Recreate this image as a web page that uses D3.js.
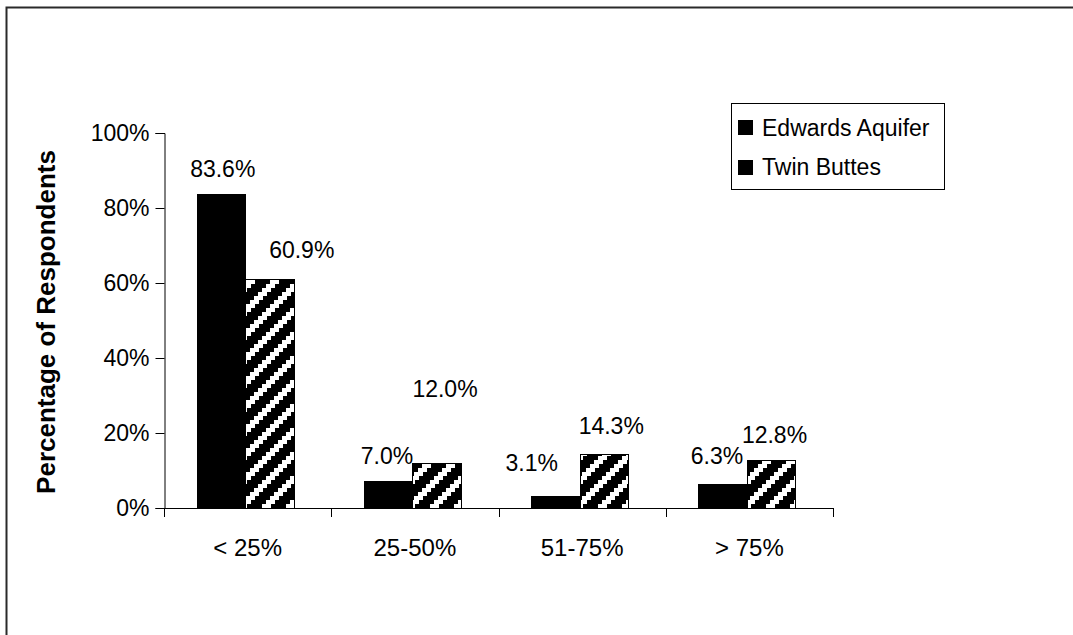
<!DOCTYPE html>
<html>
<head>
<meta charset="utf-8">
<script src="https://cdn.jsdelivr.net/npm/d3@7/dist/d3.min.js"></script>
<style>
  html, body { margin: 0; padding: 0; background: #fff; }
  svg { display: block; font-family: Arial, "Liberation Sans", sans-serif; }
</style>
</head>
<body>
<svg id="chart" width="1073" height="635"></svg>
<script>
// Share of respondents by percentage band, two survey regions
const categories = ["< 25%", "25-50%", "51-75%", "> 75%"];
const seriesNames = ["Edwards Aquifer", "Twin Buttes"];
const edwardsValues = [83.6, 7.0, 3.1, 6.3];
const twinButtesValues = [60.9, 12.0, 14.3, 12.8];
const yTicks = [0, 20, 40, 60, 80, 100];

// Label nudges (px) relative to each bar's centre / top
const labelDx = [[1.5, 32], [-1.5, 8], [-24, 7], [-6, 3]];
const labelDy = [[-18, -22], [-18, -66], [-25, -20], [-20, -17.5]];

(function draw() {
  const svg = d3.select("#chart");
  const font = 23;

  // outer frame
  svg.append("rect")
    .attr("x", 6.5).attr("y", 7.5)
    .attr("width", 1100).attr("height", 700)
    .attr("fill", "none").attr("stroke", "#2a2a2a").attr("stroke-width", 2);

  // stepped diagonal stripe fill for the second series
  const defs = svg.append("defs");
  const tile = 24, step = 4, band = 9;
  const pat = defs.append("pattern")
    .attr("id", "upDiag")
    .attr("patternUnits", "userSpaceOnUse")
    .attr("x", 2).attr("y", 4)
    .attr("width", tile).attr("height", tile);
  pat.append("rect").attr("width", tile).attr("height", tile).attr("fill", "#000");
  d3.range(tile / step).forEach(j => {
    const start = ((16 - step * j) % tile + tile) % tile;
    [start, start - tile].forEach(sx => {
      pat.append("rect")
        .attr("x", sx).attr("y", j * step)
        .attr("width", band).attr("height", step)
        .attr("fill", "#fff")
        .attr("shape-rendering", "crispEdges");
    });
  });

  const pLeft = 164, pRight = 833, pTop = 133, pBottom = 508;

  const x0 = d3.scaleBand().domain(categories).range([pLeft, pRight]).padding(0);
  const x1 = d3.scaleBand().domain(seriesNames).range([33, 130]).padding(0);
  const y = d3.scaleLinear().domain([0, 100]).range([pBottom, pTop]);

  // y axis
  const yAxis = d3.axisLeft(y).tickValues(yTicks).tickSize(9).tickPadding(6)
    .tickFormat(d => d + "%");
  const gy = svg.append("g").attr("transform", `translate(${pLeft + 0.5},0)`).call(yAxis);
  gy.select(".domain").attr("stroke", "#000");
  gy.selectAll(".tick line").attr("stroke", "#000");
  gy.selectAll(".tick text").attr("font-size", font).attr("fill", "#000")
    .attr("font-family", "Arial, 'Liberation Sans', sans-serif");

  // bars and value labels
  const series = [edwardsValues, twinButtesValues];
  const fills = ["#000", "url(#upDiag)"];
  categories.forEach((c, i) => {
    series.forEach((vals, s) => {
      const bx = x0(c) + x1(seriesNames[s]);
      svg.append("rect")
        .attr("x", bx).attr("y", y(vals[i]))
        .attr("width", x1.bandwidth()).attr("height", y(0) - y(vals[i]))
        .attr("fill", fills[s])
        .attr("stroke", "#000").attr("stroke-width", 1)
        .attr("shape-rendering", "crispEdges");
      svg.append("text")
        .attr("x", bx + x1.bandwidth() / 2 + labelDx[i][s])
        .attr("y", y(vals[i]) + labelDy[i][s])
        .attr("text-anchor", "middle")
        .attr("font-size", font)
        .text(vals[i].toFixed(1) + "%");
    });
  });

  // x axis
  svg.append("line")
    .attr("x1", pLeft).attr("x2", pRight)
    .attr("y1", pBottom + 0.5).attr("y2", pBottom + 0.5)
    .attr("stroke", "#000");
  const boundaries = categories.map(c => x0(c)).concat([pRight]);
  svg.selectAll(".xtick").data(boundaries).enter().append("line")
    .attr("x1", d => Math.round(d) + 0.5).attr("x2", d => Math.round(d) + 0.5)
    .attr("y1", pBottom).attr("y2", pBottom + 9)
    .attr("stroke", "#000");
  svg.selectAll(".xlab").data(categories).enter().append("text")
    .attr("x", d => x0(d) + x0.bandwidth() / 2)
    .attr("y", pBottom + 48)
    .attr("text-anchor", "middle")
    .attr("font-size", 24)
    .text(d => d);

  // y axis title
  svg.append("text")
    .attr("transform", "translate(55,322) rotate(-90)")
    .attr("text-anchor", "middle")
    .attr("font-size", 26)
    .attr("font-weight", "bold")
    .text("Percentage of Respondents");

  // legend
  const lg = svg.append("g");
  lg.append("rect")
    .attr("x", 731.5).attr("y", 103.5).attr("width", 213).attr("height", 86)
    .attr("fill", "#fff").attr("stroke", "#000");
  seriesNames.forEach((n, k) => {
    lg.append("rect")
      .attr("x", 738).attr("y", 120 + k * 40).attr("width", 15).attr("height", 15)
      .attr("fill", "#000");
    lg.append("text")
      .attr("x", 762).attr("y", 136 + k * 39)
      .attr("font-size", font)
      .text(n);
  });
})();
</script>
</body>
</html>
